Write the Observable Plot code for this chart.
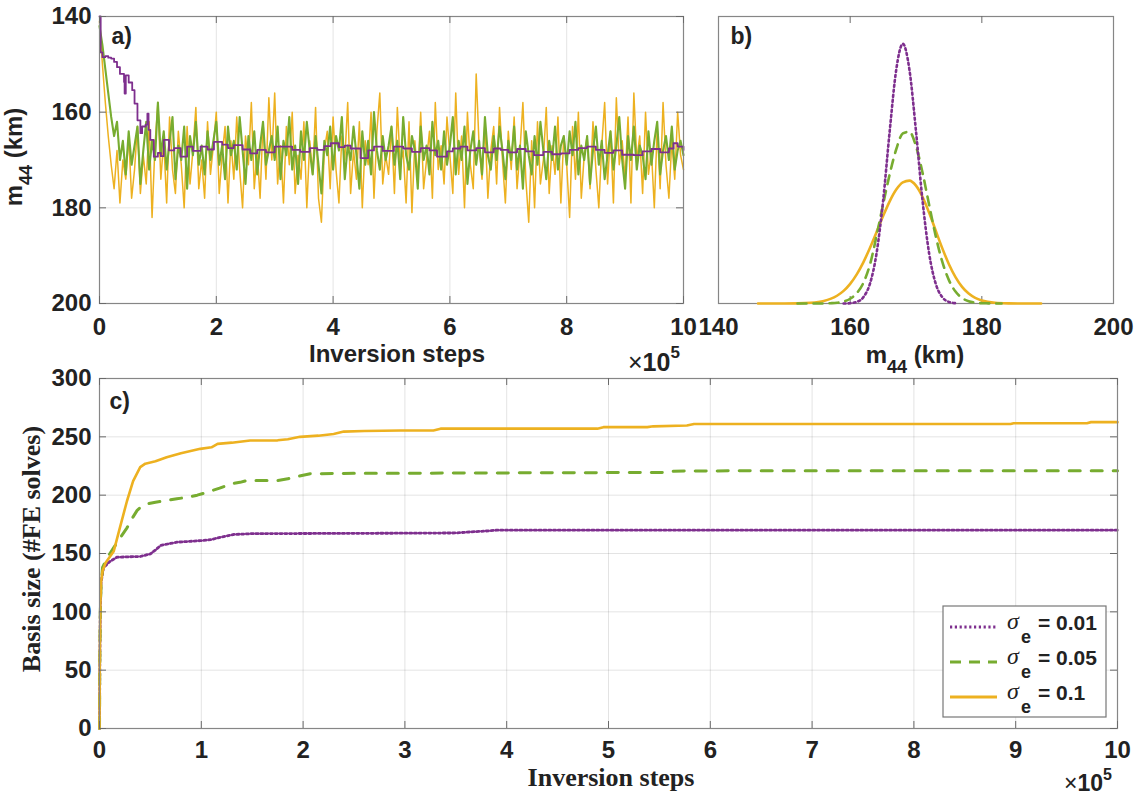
<!DOCTYPE html>
<html><head><meta charset="utf-8">
<script src="https://cdn.jsdelivr.net/npm/d3@7"></script>
<script src="https://cdn.jsdelivr.net/npm/@observablehq/plot@0.6"></script>
<style>
body{margin:0;background:#fff;}
#wrap{position:relative;width:1136px;height:796px;overflow:hidden;background:#fff;}
#wrap > svg{position:absolute;}
</style></head><body><div id="wrap"></div>
<script>
// ---------- colours / series names ----------
const PURPLE = "#7E2F8E", GREEN = "#77AC30", ORANGE = "#EDB120";
const seriesNames = ["0.01", "0.05", "0.1"];

// ---------- panel a: traces (Inversion steps x10^5 vs m44 km) ----------
const aXTicks = [0, 2, 4, 6, 8, 10];
const aYTicks = [140, 160, 180, 200];
const traceOrange = [
  141,150,158,165,171,176,168,179,170,174,165,178,172,163,177,169,175,162,182,167,
  158,174,166,179,161,172,177,164,171,180,163,175,168,159,176,170,178,162,173,167,
  160,177,169,163,179,166,174,161,172,180,165,171,158,176,168,178,162,174,157,170,
  156,175,167,179,163,171,160,177,169,174,162,180,166,173,159,178,183,168,164,176,
  161,172,179,165,170,158,177,168,174,162,180,166,171,160,178,164,156,175,169,173,
  163,177,159,171,168,179,162,181,166,174,160,176,170,164,178,158,172,167,175,161,
  169,177,156,173,165,180,160,171,176,152,167,174,162,178,168,163,175,159,170,179,
  164,172,161,176,168,158,174,183,166,180,162,175,170,159,177,167,173,161,179,165,
  171,182,163,174,160,178,169,165,176,162,172,180,167,158,175,164,179,157,171,166,
  174,161,179,156,170,165,177,160,173,168,180,163,176,158,171,178,166,174,160,169,
  172
];
const traceGreen = [
  142,146,151,156,161,165,162,170,166,173,164,171,167,163,175,168,162,172,166,170,
  158,169,164,172,166,161,174,167,170,163,176,165,169,162,171,167,173,164,170,166,
  162,171,167,174,163,169,166,172,161,168,175,165,170,164,173,167,162,171,168,165,
  170,163,174,166,169,161,172,167,175,164,170,162,168,173,165,171,177,166,169,163,
  172,165,168,161,174,167,170,163,169,176,164,171,166,173,160,168,172,165,170,167,
  163,171,166,174,161,169,172,165,168,176,163,170,167,173,162,169,166,172,164,171,
  167,161,173,166,170,163,175,168,164,171,166,173,161,169,172,165,170,163,168,174,
  166,170,163,172,167,176,164,169,173,165,171,162,168,174,166,170,163,172,167,165,
  171,164,169,162,173,167,170,165,175,168,163,171,166,174,169,164,172,167,161,170,
  176,165,170,163,172,167,169,174,164,171,166,162,173,168,165,170,163,172,168,166,
  169
];
const tracePurpleX = [0,0.02,0.05,0.1,0.15,0.2,0.25,0.3,0.35,0.42,0.43,0.45,0.5,0.56,0.6,0.65,0.7,0.73,0.79,0.82,
  0.84,0.87,0.93,1.0,1.05,1.1,1.16,1.19,1.28,1.39,1.5,1.6,1.73,1.85,1.96,2.1,2.2,2.3,2.45,2.58,
  2.7,2.85,3.0,3.16,3.3,3.44,3.6,3.73,3.85,3.96,4.1,4.2,4.3,4.47,4.6,4.7,4.85,5.04,5.2,5.35,
  5.5,5.65,5.78,5.95,6.05,6.18,6.3,6.45,6.6,6.75,6.87,7.0,7.15,7.3,7.44,7.6,7.75,7.9,8.05,8.2,
  8.35,8.5,8.65,8.8,8.95,9.15,9.3,9.45,9.6,9.75,9.83,9.9,10];
const tracePurpleY = [140,147.5,148.5,148.3,148.6,148.8,149.5,150.6,152,153.7,156.1,152.3,153.8,155.4,158.2,161.7,164.4,163,162.6,160.3,
  163.7,165.8,169.3,168.5,169.2,165.8,165.8,168,167.5,169.3,167.2,168.1,167.2,167.8,166.2,166.8,167.5,166.9,167.8,168.6,
  167.9,168.4,167.2,167.2,167.9,168.3,167.5,167.9,167.1,166.5,167.3,167.0,167.6,169.6,168.0,167.2,168.1,167.2,167.6,168.3,
  167.5,168.0,169.3,168.2,167.6,167.2,168.0,167.5,168.4,167.6,167.9,168.4,167.7,168.2,169.0,168.3,168.8,168.6,167.9,167.5,
  167.2,167.9,168.5,168.0,168.9,169.0,168.2,167.7,168.4,167.6,166.5,167.2,167.9];

// ---------- panel b: posterior densities ----------
const bXTicks = [140, 160, 180, 200];
const pdfPurpleX = [159,160,161,162,163,164,165,166,167,168,169,170,171,172,173,174,175,176];
const pdfPurpleY = [0,0.0002,0.0011,0.0044,0.0137,0.0347,0.0714,0.120,0.163,0.181,0.163,0.120,0.0714,0.0347,0.0137,0.0044,0.0011,0.0002];
const pdfGreenX = [152,153,154,155,156,157,158,159,160,161,162,163,164,165,166,167,168,169,170,171,172,173,174,175,176,177,178,179,180,181,182,183];
const pdfGreenY = [0,0,0,0.00001,0.00005,0.0002,0.0005,0.0013,0.0033,0.0072,0.0143,0.027,0.047,0.069,0.090,0.1075,0.1185,0.1197,0.1096,0.091,0.0686,0.0469,0.029,0.0163,0.0083,0.0038,0.0016,0.0006,0.0002,0.0001,0,0];
const pdfOrangeX = [146,148,150,152,154,156,157,158,159,160,161,162,163,164,165,166,167,168,169,170,171,172,173,174,175,176,177,178,179,180,182,184,186,189];
const pdfOrangeY = [0,0,0.00002,0.0001,0.0005,0.0018,0.0032,0.0054,0.0088,0.0137,0.0203,0.0287,0.0387,0.0497,0.0609,0.0712,0.0794,0.0844,0.0856,0.0821,0.0742,0.0632,0.0507,0.0384,0.0274,0.0184,0.0116,0.0069,0.0039,0.0021,0.0005,0.0001,0,0];

// ---------- panel c: basis size ----------
const cXTicks = [0,1,2,3,4,5,6,7,8,9,10];
const cYTicks = [0,50,100,150,200,250,300];
const basisOrangeX = [0,0.003,0.008,0.015,0.03,0.06,0.1,0.14,0.2,0.27,0.33,0.4,0.45,0.55,0.66,0.8,0.99,1.1,1.16,1.3,1.48,1.75,1.85,1.97,2.15,2.3,2.4,2.6,2.96,3.28,3.35,4.89,4.95,5.38,5.44,5.77,5.84,8.95,8.98,9.70,9.74,10];
const basisOrangeY = [0,60,105,125,135,142,147,152,172,195,212,224,227,229,232.5,236,239.7,241,244,245,246.9,247,248,250,251,252.5,254.5,255,255.4,255.4,257,257,258.3,258.3,259,259.7,261,261,261.7,261.7,262.6,262.6];
const basisGreenX = [0,0.003,0.008,0.015,0.03,0.08,0.14,0.2,0.27,0.32,0.37,0.42,0.47,0.55,0.66,0.76,0.86,0.96,1.06,1.18,1.29,1.38,1.45,1.6,1.75,1.85,1.91,2.0,2.07,2.5,2.96,5.55,5.64,6.5,10];
const basisGreenY = [0,55,100,122,138,147,155,163,172,180,187,191,192.6,194,195.4,197,198,200,202.6,206,209.7,211,212.6,212.6,212.6,214,215.4,217,218.3,218.8,218.8,219.5,220.6,221,221];
const basisPurpleX = [0,0.003,0.008,0.015,0.04,0.1,0.17,0.3,0.4,0.5,0.55,0.6,0.76,0.99,1.1,1.19,1.32,1.5,2.96,3.5,3.61,3.84,3.9,10];
const basisPurpleY = [0,55,100,125,138,143,146.8,147.2,147.4,149.7,153,156.9,159.7,161,162,164,166.3,167,167.4,167.6,168.3,169.5,170,170];

// ---------- build tables ----------
const zip = (xs, ys) => xs.map((x, i) => ({x, y: ys[i]}));
const byIndex = (vals) => vals.map((y, i) => ({x: i * 10 / (vals.length - 1), y}));
const aOrange = byIndex(traceOrange), aGreen = byIndex(traceGreen), aPurple = zip(tracePurpleX, tracePurpleY);
const bPurple = zip(pdfPurpleX, pdfPurpleY), bGreen = zip(pdfGreenX, pdfGreenY), bOrange = zip(pdfOrangeX, pdfOrangeY);
const cPurple = zip(basisPurpleX, basisPurpleY), cGreen = zip(basisGreenX, basisGreenY), cOrange = zip(basisOrangeX, basisOrangeY);

const wrap = document.getElementById("wrap");
const baseStyle = {fontFamily: "'Liberation Sans', Arial, sans-serif", fontWeight: "bold", fontSize: "24px", color: "#222", background: "transparent", overflow: "visible"};
const FRAME = "#868686", TICK = "#6a6a6a";
const grid = {stroke: "#000", strokeOpacity: 0.11};
const TL = 7;

// ---------- panel a ----------
{
  const W = 700, H = 380, m = {t: 16, r: 17, b: 77, l: 99};
  const fh = H - m.t - m.b, fw = W - m.l - m.r;
  const p = Plot.plot({
    width: W, height: H, marginTop: m.t, marginRight: m.r, marginBottom: m.b, marginLeft: m.l,
    style: baseStyle,
    x: {domain: [0, 10]}, y: {domain: [140, 200], reverse: true},
    marks: [
      Plot.gridX(aXTicks.slice(1, -1), grid),
      Plot.gridY(aYTicks.slice(1, -1), grid),
      Plot.line(aOrange, {x: "x", y: "y", stroke: ORANGE, strokeWidth: 1.5}),
      Plot.line(aGreen, {x: "x", y: "y", stroke: GREEN, strokeWidth: 2.1}),
      Plot.line(aPurple, {x: "x", y: "y", stroke: PURPLE, strokeWidth: 1.8, curve: "step-after"}),
      Plot.frame({stroke: FRAME, strokeWidth: 1.2}),
      Plot.tickX(aXTicks, {x: d => d, insetTop: fh - TL, stroke: TICK}),
      Plot.tickX(aXTicks, {x: d => d, insetBottom: fh - TL, stroke: TICK}),
      Plot.tickY(aYTicks, {y: d => d, insetRight: fw - TL, stroke: TICK}),
      Plot.tickY(aYTicks, {y: d => d, insetLeft: fw - TL, stroke: TICK}),
      Plot.axisX(aXTicks, {tickSize: 0, tickPadding: 14, label: null}),
      Plot.axisY(aYTicks, {tickSize: 0, tickPadding: 8, label: null}),
      Plot.text(["a)"], {text: d => d, frameAnchor: "top-left", dx: 12, dy: 11, fontSize: 23, fontWeight: "bold"})
    ]
  });
  p.style.left = "0px"; p.style.top = "0px";
  wrap.appendChild(p);
}

// ---------- panel b ----------
{
  const W = 436, H = 380, m = {t: 16, r: 23, b: 77, l: 18};
  const fh = H - m.t - m.b;
  const p = Plot.plot({
    width: W, height: H, marginTop: m.t, marginRight: m.r, marginBottom: m.b, marginLeft: m.l,
    style: baseStyle,
    x: {domain: [140, 200]}, y: {domain: [0, 0.2], axis: null},
    marks: [
      Plot.frame({stroke: FRAME, strokeWidth: 1.2}),
      Plot.tickX(bXTicks.slice(1, -1), {x: d => d, insetTop: fh - TL, stroke: TICK}),
      Plot.tickX(bXTicks.slice(1, -1), {x: d => d, insetBottom: fh - TL, stroke: TICK}),
      Plot.line(bOrange, {x: "x", y: "y", stroke: ORANGE, strokeWidth: 2.6, curve: "monotone-x"}),
      Plot.line(bGreen, {x: "x", y: "y", stroke: GREEN, strokeWidth: 2.6, strokeDasharray: "9,7", curve: "monotone-x"}),
      Plot.line(bPurple, {x: "x", y: "y", stroke: PURPLE, strokeWidth: 2.6, strokeDasharray: "2,3", curve: "monotone-x"}),
      Plot.axisX(bXTicks, {tickSize: 0, tickPadding: 14, label: null}),
      Plot.text(["b)"], {text: d => d, frameAnchor: "top-left", dx: 12, dy: 11, fontSize: 23, fontWeight: "bold"})
    ]
  });
  p.style.left = "700px"; p.style.top = "0px";
  wrap.appendChild(p);
}

// ---------- panel c ----------
{
  const W = 1136, H = 436, m = {t: 18, r: 19, b: 68, l: 99};
  const fh = H - m.t - m.b, fw = W - m.l - m.r;
  const p = Plot.plot({
    width: W, height: H, marginTop: m.t, marginRight: m.r, marginBottom: m.b, marginLeft: m.l,
    style: baseStyle,
    x: {domain: [0, 10]}, y: {domain: [0, 300]},
    marks: [
      Plot.gridX(cXTicks.slice(1, -1), grid),
      Plot.gridY(cYTicks.slice(1, -1), grid),
      Plot.line(cPurple, {x: "x", y: "y", stroke: PURPLE, strokeWidth: 2.8, strokeDasharray: "2.2,2.6"}),
      Plot.line(cGreen, {x: "x", y: "y", stroke: GREEN, strokeWidth: 3, strokeDasharray: "11,11"}),
      Plot.line(cOrange, {x: "x", y: "y", stroke: ORANGE, strokeWidth: 2.6}),
      Plot.frame({stroke: FRAME, strokeWidth: 1.2}),
      Plot.tickX(cXTicks, {x: d => d, insetTop: fh - TL, stroke: TICK}),
      Plot.tickX(cXTicks, {x: d => d, insetBottom: fh - TL, stroke: TICK}),
      Plot.tickY(cYTicks, {y: d => d, insetRight: fw - TL, stroke: TICK}),
      Plot.tickY(cYTicks, {y: d => d, insetLeft: fw - TL, stroke: TICK}),
      Plot.axisX(cXTicks, {tickSize: 0, tickPadding: 12, label: null}),
      Plot.axisY(cYTicks, {tickSize: 0, tickPadding: 8, label: null}),
      Plot.text(["c)"], {text: d => d, frameAnchor: "top-left", dx: 10, dy: 14, fontSize: 23, fontWeight: "bold"})
    ]
  });
  p.style.left = "0px"; p.style.top = "360px";
  wrap.appendChild(p);
}

// ---------- overlay: axis titles, exponent notes, legend ----------
{
  const sans = "'Liberation Sans', Arial, sans-serif", serif = "'Liberation Serif', 'Times New Roman', serif";
  const legendRows = [
    {name: seriesNames[0], color: PURPLE, dash: "2.2,2.6"},
    {name: seriesNames[1], color: GREEN, dash: "11,8"},
    {name: seriesNames[2], color: ORANGE, dash: null}
  ];
  let leg = `<rect x="943" y="606" width="163" height="111" fill="#fff" stroke="#777" stroke-width="1.2"/>`;
  legendRows.forEach((r, i) => {
    const yb = 630 + 35 * i, yl = yb - 3;
    leg += `<line x1="950" x2="997" y1="${yl}" y2="${yl}" stroke="${r.color}" stroke-width="2.8" ${r.dash ? `stroke-dasharray="${r.dash}"` : ""}/>`;
    leg += `<text x="1007" y="${yb - 1}" font-family="${serif}" font-style="italic" font-size="24" fill="#222">σ</text>`;
    leg += `<text x="1021" y="${yb + 13}" font-family="${sans}" font-weight="bold" font-size="18" fill="#222">e</text>`;
    leg += `<text x="1038" y="${yb}" font-family="${sans}" font-weight="bold" font-size="21" fill="#222">= ${r.name}</text>`;
  });
  const svg = `<svg width="1136" height="796" style="left:0;top:0">
    <g fill="#222" font-family="${sans}" font-weight="bold">
      <text transform="translate(22,157) rotate(-90)" text-anchor="middle" font-size="24">m<tspan font-size="18" dy="10">44</tspan><tspan dy="-10"> (km)</tspan></text>
      <text x="397" y="362" text-anchor="middle" font-size="24">Inversion steps</text>
      <text x="628" y="371" font-size="25"><tspan font-weight="normal">×</tspan>10<tspan font-size="17" dy="-13">5</tspan></text>
      <text x="915" y="363" text-anchor="middle" font-size="24">m<tspan font-size="18" dy="10">44</tspan><tspan dy="-10"> (km)</tspan></text>
      <text x="1064" y="791" font-size="23"><tspan font-weight="normal">×</tspan>10<tspan font-size="16" dy="-11">5</tspan></text>
    </g>
    <g fill="#222" font-family="${serif}" font-weight="bold">
      <text x="611" y="786" text-anchor="middle" font-size="26">Inversion steps</text>
      <text transform="translate(40,549) rotate(-90)" text-anchor="middle" font-size="26">Basis size (#FE solves)</text>
    </g>
    ${leg}
  </svg>`;
  wrap.insertAdjacentHTML("beforeend", svg);
}
</script></body></html>
